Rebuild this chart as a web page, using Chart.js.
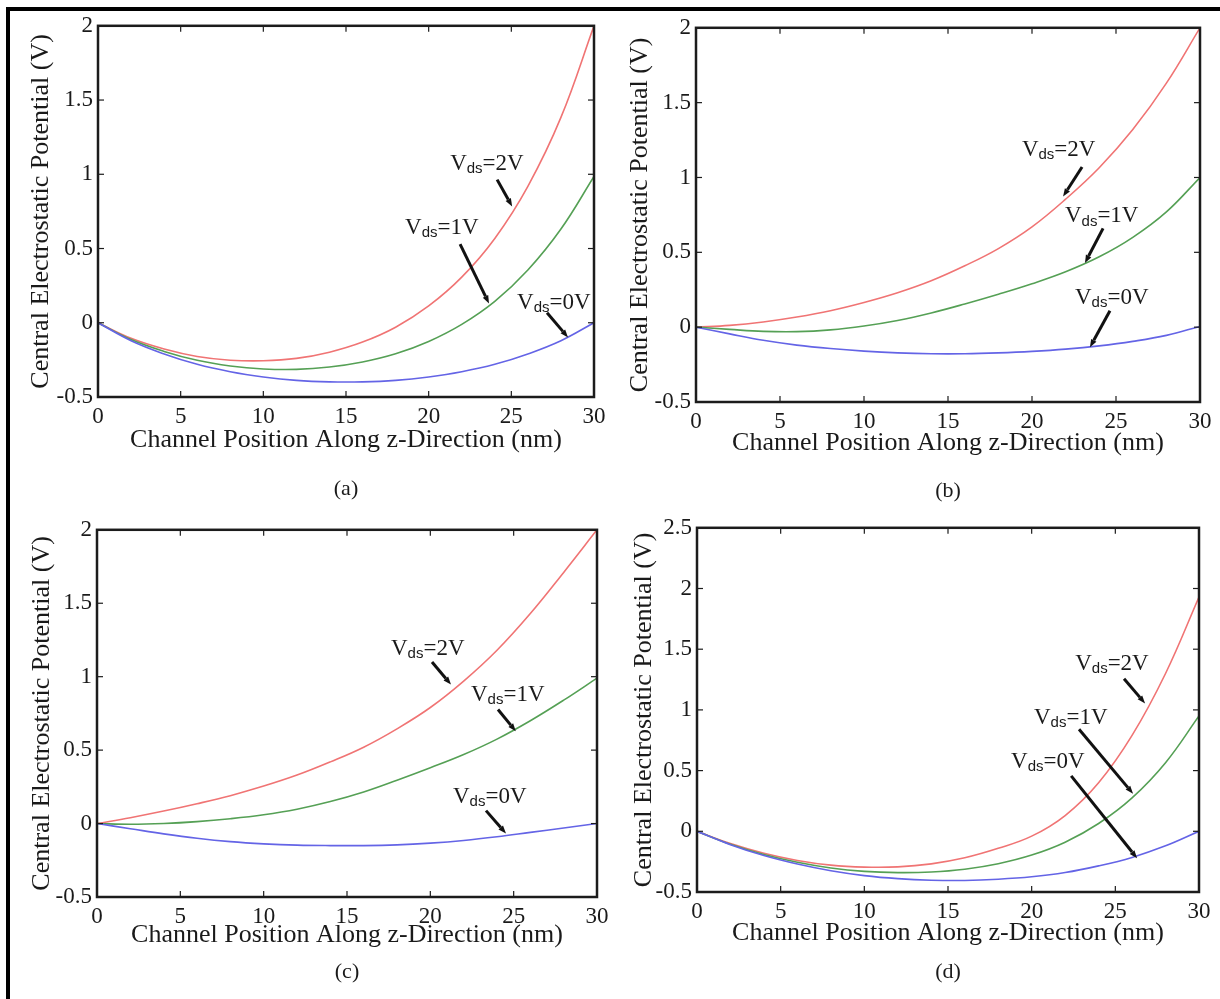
<!DOCTYPE html>
<html>
<head>
<meta charset="utf-8">
<title>Central Electrostatic Potential</title>
<script src="https://cdn.jsdelivr.net/npm/chart.js@4.4.1/dist/chart.umd.min.js"></script>
<style>
    body { margin: 0; background: #fff; }
    #page { position: relative; width: 1220px; height: 999px; overflow: hidden; background: #fff; }
    #frame { position: absolute; left: 6px; top: 7px; width: 1230px; height: 1010px; border-left: 4px solid #000; border-top: 4px solid #000; }
    canvas { position: absolute; }
</style>
</head>
<body>
<div id="page">
    <div id="frame"></div>
    <canvas id="chartA"></canvas>
    <canvas id="chartB"></canvas>
    <canvas id="chartC"></canvas>
    <canvas id="chartD"></canvas>
</div>
<script>
// channel position along z (nm)
var zPos = [0, 2, 4, 6, 8, 10, 12, 14, 16, 18, 20, 22, 24, 26, 28, 30];
var xTicks = [0, 5, 10, 15, 20, 25, 30];
var yTicks = [-0.5, 0, 0.5, 1, 1.5, 2];
var yTicksD = [-0.5, 0, 0.5, 1, 1.5, 2, 2.5];
var vdsValues = [0, 1, 2];

// (a)
var a0 = [0, -0.121, -0.210, -0.280, -0.330, -0.365, -0.388, -0.398, -0.398, -0.388, -0.365, -0.330, -0.280, -0.210, -0.121, 0];
var a1 = [0, -0.113, -0.193, -0.253, -0.291, -0.311, -0.314, -0.298, -0.264, -0.209, -0.126, -0.011, 0.144, 0.355, 0.631, 0.985];
var a2 = [0, -0.105, -0.177, -0.227, -0.252, -0.256, -0.240, -0.198, -0.130, -0.030, 0.113, 0.307, 0.568, 0.919, 1.383, 2.0];
// (b)
var b0 = [0, -0.045, -0.088, -0.120, -0.143, -0.160, -0.172, -0.178, -0.178, -0.172, -0.162, -0.147, -0.125, -0.095, -0.055, 0.005];
var b1 = [0, -0.015, -0.028, -0.030, -0.018, 0.008, 0.045, 0.095, 0.155, 0.220, 0.290, 0.370, 0.470, 0.600, 0.770, 1.0];
var b2 = [0, 0.012, 0.035, 0.068, 0.110, 0.165, 0.230, 0.310, 0.410, 0.525, 0.670, 0.855, 1.065, 1.320, 1.630, 2.0];
// (c)
var c0 = [0, -0.035, -0.070, -0.100, -0.123, -0.138, -0.147, -0.150, -0.150, -0.145, -0.133, -0.115, -0.090, -0.060, -0.030, 0];
var c1 = [0, -0.005, 0.0, 0.013, 0.033, 0.060, 0.098, 0.150, 0.215, 0.295, 0.380, 0.470, 0.575, 0.700, 0.840, 0.990];
var c2 = [0, 0.040, 0.085, 0.135, 0.190, 0.255, 0.330, 0.420, 0.520, 0.645, 0.790, 0.970, 1.180, 1.430, 1.710, 2.0];
// (d)
var d0 = [0, -0.110, -0.200, -0.270, -0.325, -0.365, -0.390, -0.403, -0.405, -0.395, -0.375, -0.340, -0.285, -0.215, -0.120, 0];
var d1 = [0, -0.106, -0.191, -0.255, -0.302, -0.330, -0.340, -0.335, -0.312, -0.267, -0.196, -0.090, 0.064, 0.275, 0.565, 0.950];
var d2 = [0, -0.101, -0.181, -0.240, -0.279, -0.295, -0.293, -0.268, -0.218, -0.140, -0.040, 0.130, 0.400, 0.790, 1.300, 1.930];

var serif = '"Liberation Serif", "Times New Roman", serif';
var lineColors = ['#6464e6', '#55a055', '#f07474'];

// where each panel's plot box sits on the page
var panels = [
    { id: 'chartA', L: 98, T: 23, R: 594, B: 397, yTitleX: 41, xTitleY: 440, capY: 489, caption: '(a)', ticks: yTicks, series: [a0, a1, a2],
      notes: [
          { vds: 2, at: [21.3, 1.07], from: [24.14, 0.964], to: [25.05, 0.783] },
          { vds: 1, at: [18.57, 0.636], from: [21.9, 0.529], to: [23.65, 0.129] },
          { vds: 0, at: [25.35, 0.135], from: [27.16, 0.068], to: [28.43, -0.099] }
      ] },
    { id: 'chartB', L: 696, T: 25, R: 1200, B: 402, yTitleX: 640, xTitleY: 443, capY: 491, caption: '(b)', ticks: yTicks, series: [b0, b1, b2],
      notes: [
          { vds: 2, at: [19.4, 1.184], from: [22.98, 1.07], to: [21.85, 0.873] },
          { vds: 1, at: [21.96, 0.74], from: [24.23, 0.66], to: [23.15, 0.428] },
          { vds: 0, at: [22.56, 0.196], from: [24.64, 0.11], to: [23.45, -0.135] }
      ] },
    { id: 'chartC', L: 97, T: 527, R: 597, B: 897, yTitleX: 42, xTitleY: 935, capY: 972, caption: '(c)', ticks: yTicks, series: [c0, c1, c2],
      notes: [
          { vds: 2, at: [17.64, 1.19], from: [20.1, 1.10], to: [21.24, 0.946] },
          { vds: 1, at: [22.44, 0.878], from: [24.06, 0.777], to: [25.13, 0.628] },
          { vds: 0, at: [21.36, 0.182], from: [23.34, 0.088], to: [24.54, -0.068] }
      ] },
    { id: 'chartD', L: 697, T: 525, R: 1199, B: 892, yTitleX: 644, xTitleY: 933, capY: 972, caption: '(d)', ticks: yTicksD, series: [d0, d1, d2],
      notes: [
          { vds: 2, at: [22.6, 1.38], from: [25.52, 1.257], to: [26.78, 1.053] },
          { vds: 1, at: [20.14, 0.933], from: [22.83, 0.84], to: [26.06, 0.309] },
          { vds: 0, at: [18.77, 0.572], from: [22.36, 0.457], to: [26.3, -0.222] }
      ] }
];

function drawLine(ctx, x1, y1, x2, y2) {
    ctx.beginPath();
    ctx.moveTo(x1, y1);
    ctx.lineTo(x2, y2);
    ctx.stroke();
}

// box, inward tick marks, V_ds labels with arrows and the (a)..(d) caption
var decorPlugin = {
    id: 'decor',
    afterDatasetsDraw: function (chart) {
        var ctx = chart.ctx;
        var area = chart.chartArea;
        var xs = chart.scales.x;
        var ys = chart.scales.y;
        var cfg = chart.options.plugins.decor;

        ctx.save();
        ctx.strokeStyle = '#1c1c1c';
        ctx.lineWidth = 1.2;
        xs.ticks.forEach(function (t) {
            var px = xs.getPixelForValue(t.value);
            drawLine(ctx, px, area.bottom, px, area.bottom - 6);
            drawLine(ctx, px, area.top, px, area.top + 6);
        });
        ys.ticks.forEach(function (t) {
            var py = ys.getPixelForValue(t.value);
            drawLine(ctx, area.left, py, area.left + 6, py);
            drawLine(ctx, area.right, py, area.right - 6, py);
        });
        ctx.lineWidth = 2.5;
        ctx.strokeRect(area.left, area.top, area.right - area.left, area.bottom - area.top);

        cfg.notes.forEach(function (n) {
            var px = xs.getPixelForValue(n.at[0]);
            var py = ys.getPixelForValue(n.at[1]);
            ctx.fillStyle = '#1a1a1a';
            ctx.textAlign = 'left';
            ctx.textBaseline = 'middle';
            ctx.font = '23px ' + serif;
            ctx.fillText('V', px, py);
            var w = ctx.measureText('V').width;
            ctx.font = '15px "Liberation Sans", Arial, sans-serif';
            ctx.fillText('ds', px + w, py + 5);
            var w2 = ctx.measureText('ds').width;
            ctx.font = '23px ' + serif;
            ctx.fillText('=' + vdsValues[n.vds] + 'V', px + w + w2, py);

            // arrow towards the curve
            var x1 = xs.getPixelForValue(n.from[0]), y1 = ys.getPixelForValue(n.from[1]);
            var x2 = xs.getPixelForValue(n.to[0]), y2 = ys.getPixelForValue(n.to[1]);
            var ang = Math.atan2(y2 - y1, x2 - x1);
            var hx = x2 - 8 * Math.cos(ang), hy = y2 - 8 * Math.sin(ang);
            ctx.strokeStyle = '#111';
            ctx.lineWidth = 3;
            drawLine(ctx, x1, y1, hx, hy);
            ctx.fillStyle = '#111';
            ctx.beginPath();
            ctx.moveTo(x2, y2);
            ctx.lineTo(hx + 3 * Math.sin(ang), hy - 3 * Math.cos(ang));
            ctx.lineTo(hx - 3 * Math.sin(ang), hy + 3 * Math.cos(ang));
            ctx.closePath();
            ctx.fill();
        });

        ctx.fillStyle = '#1a1a1a';
        ctx.textAlign = 'center';
        ctx.textBaseline = 'middle';
        ctx.font = '22px ' + serif;
        ctx.fillText(cfg.caption, (area.left + area.right) / 2, cfg.capY);
        ctx.restore();
    }
};

panels.forEach(function (p) {
    var canvas = document.getElementById(p.id);
    var left = p.yTitleX - 13;
    var top = p.T - 16;
    var width = p.R + 22 - left;
    var height = p.capY + 22 - top;
    var xAxisH = p.xTitleY + 13 - p.B;
    canvas.width = width;
    canvas.height = height;
    canvas.style.left = left + 'px';
    canvas.style.top = top + 'px';

    var datasets = p.series.map(function (vals, i) {
        return {
            label: 'Vds=' + vdsValues[i] + 'V',
            data: zPos.map(function (z, k) { return { x: z, y: vals[k] }; }),
            borderColor: lineColors[i],
            borderWidth: 1.6,
            pointRadius: 0,
            tension: 0.4,
            fill: false
        };
    });

    new Chart(canvas.getContext('2d'), {
        type: 'line',
        data: { datasets: datasets },
        plugins: [decorPlugin],
        options: {
            responsive: false,
            animation: false,
            devicePixelRatio: 1,
            layout: { padding: { left: 0, top: 16, right: 22, bottom: height - 16 - (p.B - p.T) - xAxisH } },
            plugins: {
                legend: { display: false },
                tooltip: { enabled: false },
                decor: { notes: p.notes, caption: p.caption, capY: p.capY - top }
            },
            scales: {
                x: {
                    type: 'linear',
                    min: 0,
                    max: 30,
                    grid: { display: false, drawTicks: false },
                    border: { display: false },
                    afterBuildTicks: function (s) { s.ticks = xTicks.map(function (v) { return { value: v }; }); },
                    afterFit: function (s) { s.height = xAxisH; },
                    ticks: {
                        autoSkip: false,
                        maxRotation: 0,
                        padding: 6,
                        color: '#1a1a1a',
                        font: { family: serif, size: 23 },
                        callback: function (v) { return String(v); }
                    },
                    title: {
                        display: true,
                        text: 'Channel Position Along z-Direction (nm)',
                        color: '#1a1a1a',
                        padding: 0,
                        font: { family: serif, size: 26, lineHeight: 1 }
                    }
                },
                y: {
                    type: 'linear',
                    min: p.ticks[0],
                    max: p.ticks[p.ticks.length - 1],
                    grid: { display: false, drawTicks: false },
                    border: { display: false },
                    afterBuildTicks: function (s) { s.ticks = p.ticks.map(function (v) { return { value: v }; }); },
                    afterFit: function (s) { s.width = p.L - left; },
                    ticks: {
                        autoSkip: false,
                        padding: 5,
                        color: '#1a1a1a',
                        font: { family: serif, size: 23 },
                        callback: function (v) { return String(v); }
                    },
                    title: {
                        display: true,
                        text: 'Central Electrostatic Potential (V)',
                        color: '#1a1a1a',
                        padding: 0,
                        font: { family: serif, size: 26, lineHeight: 1 }
                    }
                }
            }
        }
    });
});
</script>
</body>
</html>
